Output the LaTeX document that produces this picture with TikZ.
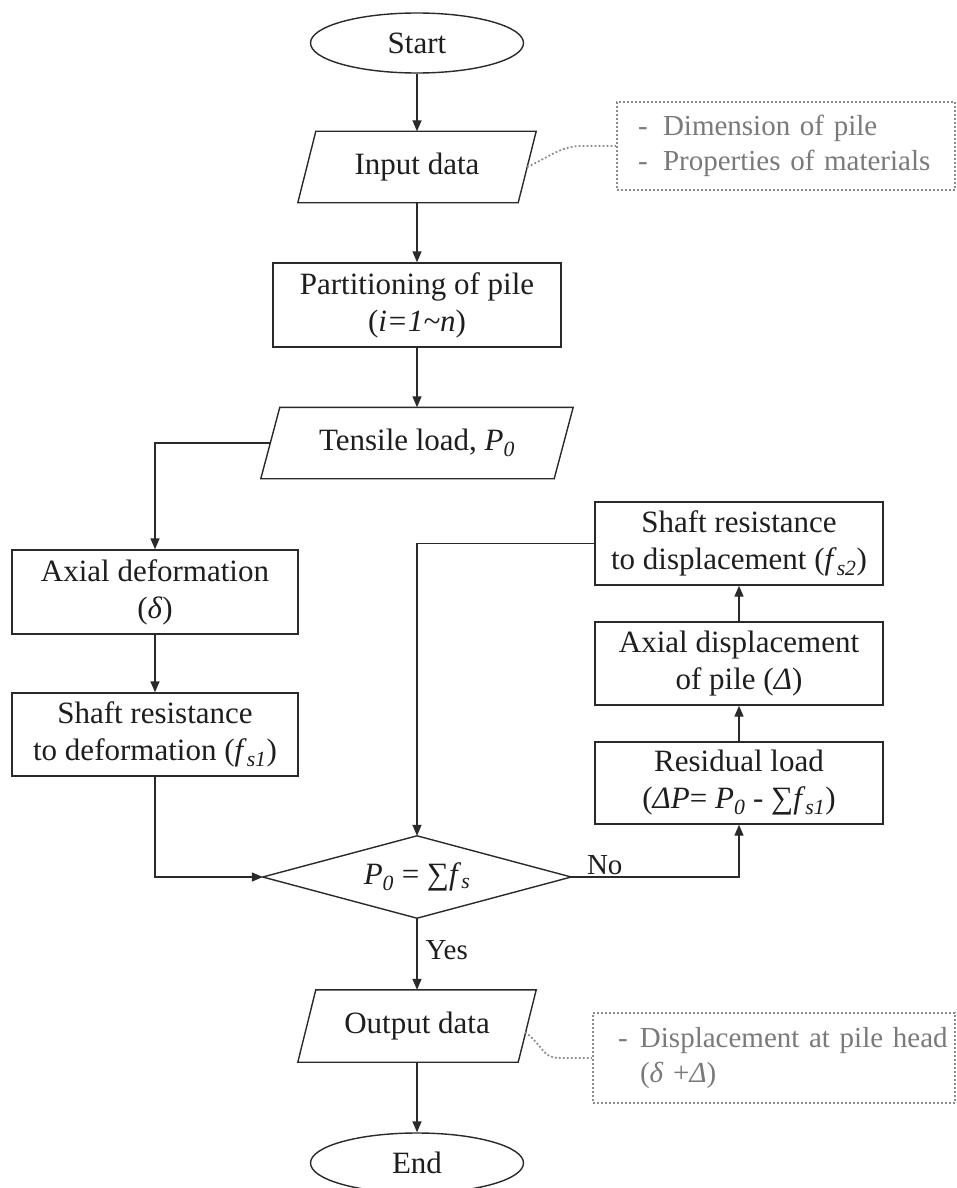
\documentclass[tikz,border=0pt]{standalone}
\usepackage{fontspec}
\setmainfont{Liberation Serif}
\usetikzlibrary{arrows.meta,calc,shapes.geometric}
\definecolor{ink}{HTML}{1E1E1E}
\definecolor{edge}{HTML}{2A2A2A}
\definecolor{notetext}{HTML}{7A7A7A}
\definecolor{noteedge}{HTML}{8C8C8C}
% parallelogram drawn around a plain rectangle node: #1 node, #2 half slant
\newcommand\drawslant[2]{%
  \draw[line] ($(#1.north west)+(#2,0)$) -- ($(#1.north east)+(#2,0)$)
    -- ($(#1.south east)+(-#2,0)$) -- ($(#1.south west)+(-#2,0)$) -- cycle;}
\newcommand\subit[1]{\textsubscript{\textit{#1}}}
\begin{document}
\begin{tikzpicture}[x=1pt,y=-1pt,
  every node/.style={font=\fontsize{31}{37}\selectfont, text=ink},
  line/.style={draw=edge, line width=1.4pt},
  flow/.style={line, -{Triangle[length=11pt,width=9pt]}},
  box/.style={draw=edge, line width=1.4pt, minimum width=288pt,
    minimum height=83pt, inner sep=0pt, align=center},
  term/.style={ellipse, draw=edge, line width=1.4pt, minimum width=213pt,
    minimum height=60pt, inner sep=0pt},
  io/.style={minimum width=220pt, minimum height=71pt, inner sep=0pt},
  lbl/.style={font=\fontsize{29}{35}\selectfont, inner sep=2pt},
  note/.style={draw=noteedge, line width=1.8pt, dash pattern=on 1.8pt off 2.2pt,
    text=notetext, font=\fontsize{29}{35}\selectfont, align=left,
    inner xsep=0pt, inner ysep=0pt},
  noteline/.style={draw=noteedge, line width=1.8pt, dash pattern=on 1.8pt off 2.2pt}
]
\useasboundingbox (0,0) rectangle (957,1188);
\fill[white] (0,0) rectangle (957,1188);

% main column
\node[term] (start) at (417,43) {Start};
\node[io] (in) at (417,167) {Input data};
\drawslant{in}{9}
\node[box, minimum height=84pt] (part) at (417,305)
  {Partitioning of pile\\(\textit{i=1\textasciitilde n})};
\node[io, minimum width=293pt] (tl) at (417,443) {Tensile load, \textit{P}\subit{0}};
\drawslant{tl}{9.5}

% left column
\node[box, minimum width=286pt, minimum height=84pt] (axdef) at (155,592)
  {Axial deformation\\(\textit{δ})};
\node[box, minimum width=286pt] (shaft1) at (155,734.5)
  {Shaft resistance\\to deformation (\textit{f}\subit{s1})};

% right column
\node[box] (shaft2) at (739,543.5)
  {Shaft resistance\\to displacement (\textit{f}\subit{s2})};
\node[box] (axdisp) at (739,663.5)
  {Axial displacement\\of pile (\textit{Δ})};
\node[box, minimum height=82pt] (resid) at (739,783)
  {Residual load\\(\textit{ΔP}= \textit{P}\subit{0} - ∑\textit{f}\subit{s1})};

% decision
\node[minimum width=308pt, minimum height=82pt, inner sep=0pt] (dec) at (417,877)
  {\textit{P}\subit{0} = ∑\textit{f}\subit{s}};
\draw[line] (dec.west) -- (dec.north) -- (dec.east) -- (dec.south) -- cycle;

% output and end
\node[io, minimum height=72pt] (out) at (417,1026) {Output data};
\drawslant{out}{9}
\node[term] (end) at (417,1163) {End};

% notes
\node[note, text width=338pt, minimum height=88pt] (note1) at (786,146)
  {\hspace*{21pt}\makebox[25pt][l]{-}Dimension of pile\\
   \hspace*{21pt}\makebox[25pt][l]{-}Properties of materials};
\node[note, text width=362pt, minimum height=90pt] (note2) at (774,1058)
  {\hspace*{25pt}\makebox[22pt][l]{-}Displacement at pile head\\
   \hspace*{47pt}(\textit{δ} +\textit{Δ})};

% connectors
\draw[flow] (start.south) -- (in.north);
\draw[flow] (in.south) -- (part.north);
\draw[flow] (part.south) -- (tl.north);
\draw[flow] (tl.west) -| (axdef.north);
\draw[flow] (axdef.south) -- (shaft1.north);
\draw[flow] (shaft1.south) |- (dec.west);
\draw[flow] (shaft2.west) -| (dec.north);
\draw[flow] (dec.east) -| node[lbl, pos=0.1, above] (no) {No} (resid.south);
\draw[flow] (resid.north) -- (axdisp.south);
\draw[flow] (axdisp.north) -- (shaft2.south);
\draw[flow] (dec.south) -- node[lbl, pos=0.45, right=6pt] (yes) {Yes} (out.north);
\draw[flow] (out.south) -- (end.north);

% dotted leaders to the notes
\draw[noteline] (in.east) .. controls ($(in.east)+(22,-10)$) and ($(note1.west)+(-55,0)$)
  .. ($(note1.west)+(-35,0)$) -- (note1.west);
\draw[noteline] ($(out.east)+(-2,6)$) .. controls ($(out.east)+(18,22)$) and ($(note2.west)+(-50,0)$)
  .. ($(note2.west)+(-32,0)$) -- (note2.west);
\end{tikzpicture}
\end{document}
